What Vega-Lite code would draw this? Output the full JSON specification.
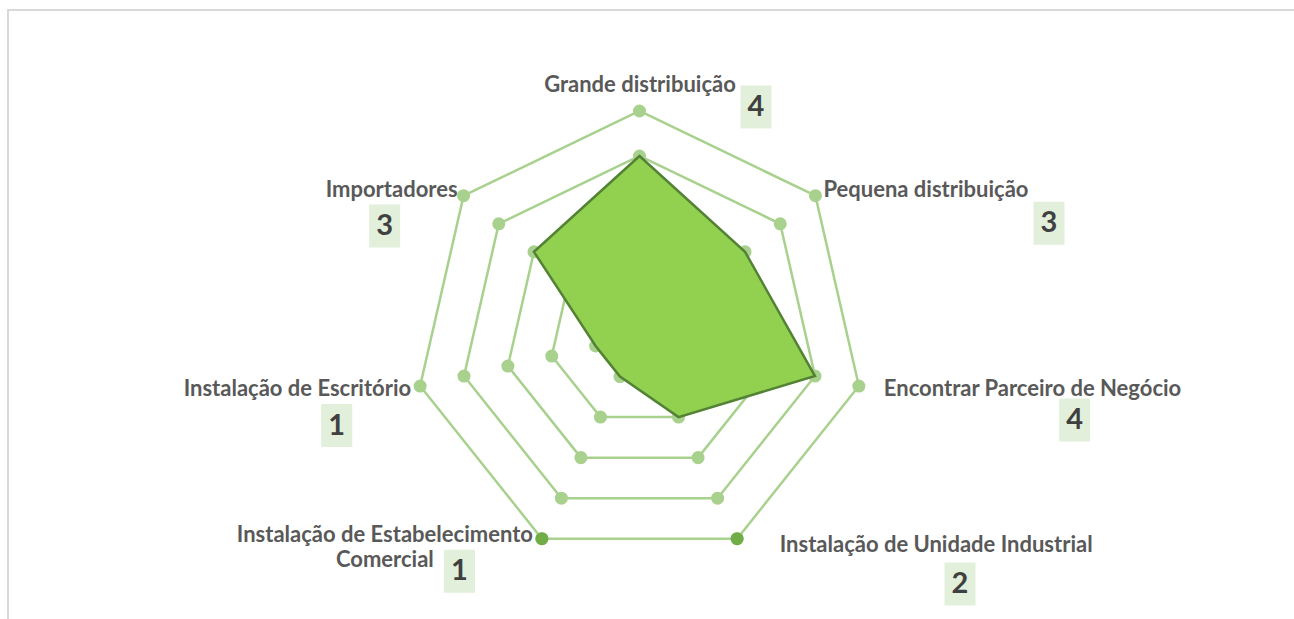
{
  "$schema": "https://vega.github.io/schema/vega-lite/v6.json",
  "width": 1286,
  "height": 609,
  "autosize": {"type": "none"},
  "padding": {"left": 8, "top": 10, "right": 0, "bottom": 0},
  "background": "white",
  "config": {"view": {"stroke": "#D9D9D9", "strokeWidth": 2, "strokeDash": [1286, 1895, 609]}},
  "datasets": {
    "cats": [
      {"cat": "Grande distribuição", "idx": 0, "value": 4},
      {"cat": "Pequena distribuição", "idx": 1, "value": 3},
      {"cat": "Encontrar Parceiro de Negócio", "idx": 2, "value": 4},
      {"cat": "Instalação de Unidade Industrial", "idx": 3, "value": 2},
      {"cat": "Instalação de Estabelecimento Comercial", "idx": 4, "value": 1},
      {"cat": "Instalação de Escritório", "idx": 5, "value": 1},
      {"cat": "Importadores", "idx": 6, "value": 3}
    ],
    "grid": [
      {"idx": 0, "level": 1}, {"idx": 1, "level": 1}, {"idx": 2, "level": 1}, {"idx": 3, "level": 1}, {"idx": 4, "level": 1}, {"idx": 5, "level": 1}, {"idx": 6, "level": 1},
      {"idx": 0, "level": 2}, {"idx": 1, "level": 2}, {"idx": 2, "level": 2}, {"idx": 3, "level": 2}, {"idx": 4, "level": 2}, {"idx": 5, "level": 2}, {"idx": 6, "level": 2},
      {"idx": 0, "level": 3}, {"idx": 1, "level": 3}, {"idx": 2, "level": 3}, {"idx": 3, "level": 3}, {"idx": 4, "level": 3}, {"idx": 5, "level": 3}, {"idx": 6, "level": 3},
      {"idx": 0, "level": 4}, {"idx": 1, "level": 4}, {"idx": 2, "level": 4}, {"idx": 3, "level": 4}, {"idx": 4, "level": 4}, {"idx": 5, "level": 4}, {"idx": 6, "level": 4},
      {"idx": 0, "level": 5}, {"idx": 1, "level": 5}, {"idx": 2, "level": 5}, {"idx": 3, "level": 5}, {"idx": 4, "level": 5}, {"idx": 5, "level": 5}, {"idx": 6, "level": 5}
    ]
  },
  "encoding": {
    "x": {"field": "px", "type": "quantitative", "scale": {"domain": [-14.0333, 14.5444], "nice": false, "zero": false}, "axis": null},
    "y": {"field": "py", "type": "quantitative", "scale": {"domain": [-6.2889, 7.2444], "nice": false, "zero": false}, "axis": null}
  },
  "layer": [
    {
      "data": {"name": "grid"},
      "transform": [
        {"calculate": "datum.idx*2*PI/7", "as": "ang"},
        {"calculate": "datum.level*sin(datum.ang)", "as": "px"},
        {"calculate": "datum.level*cos(datum.ang)", "as": "py"}
      ],
      "mark": {"type": "line", "interpolate": "linear-closed", "stroke": "#A9D18E", "strokeWidth": 2.5},
      "encoding": {"detail": {"field": "level", "type": "nominal"}, "order": {"field": "idx", "type": "quantitative"}}
    },
    {
      "data": {"name": "grid"},
      "transform": [
        {"calculate": "datum.idx*2*PI/7", "as": "ang"},
        {"calculate": "datum.level*sin(datum.ang)", "as": "px"},
        {"calculate": "datum.level*cos(datum.ang)", "as": "py"}
      ],
      "mark": {"type": "circle", "size": 170, "color": "#A9D18E", "opacity": 1}
    },
    {
      "data": {"name": "cats"},
      "transform": [
        {"calculate": "datum.idx*2*PI/7", "as": "ang"},
        {"calculate": "datum.value*sin(datum.ang)", "as": "px"},
        {"calculate": "datum.value*cos(datum.ang)", "as": "py"}
      ],
      "mark": {"type": "line", "interpolate": "linear-closed", "fill": "#92D050", "stroke": "#548235", "strokeWidth": 2.5},
      "encoding": {"order": {"field": "idx", "type": "quantitative"}}
    },
    {
      "data": {"name": "grid"},
      "transform": [
        {"filter": "datum.level == 5 && (datum.idx == 3 || datum.idx == 4)"},
        {"calculate": "datum.idx*2*PI/7", "as": "ang"},
        {"calculate": "datum.level*sin(datum.ang)", "as": "px"},
        {"calculate": "datum.level*cos(datum.ang)", "as": "py"}
      ],
      "mark": {"type": "circle", "size": 170, "color": "#70AD47", "opacity": 1}
    },
    {
      "data": {"name": "cats"},
      "transform": [
        {"filter": "datum.idx == 0"},
        {"calculate": "datum.idx*2*PI/7", "as": "ang"},
        {"calculate": "5*sin(datum.ang)", "as": "px"},
        {"calculate": "5*cos(datum.ang)", "as": "py"}
      ],
      "layer": [
        {"mark": {"type": "text", "align": "center", "baseline": "alphabetic", "xOffset": 0.5, "yOffset": -19, "font": "Lato", "fontWeight": "bold", "fontSize": 22, "fill": "#595959"}, "encoding": {"text": {"field": "cat"}}},
        {"mark": {"type": "point", "shape": "M-0.721,-1H0.721V1H-0.721Z", "size": 1849, "filled": true, "fill": "#E2EFDA", "strokeWidth": 0, "opacity": 1, "xOffset": 116.5, "yOffset": -4}},
        {"mark": {"type": "text", "align": "center", "baseline": "middle", "xOffset": 116.5, "yOffset": -4, "font": "Lato", "fontWeight": "bold", "fontSize": 29, "fill": "#404040"}, "encoding": {"text": {"field": "value", "type": "quantitative"}}}
      ]
    },
    {
      "data": {"name": "cats"},
      "transform": [
        {"filter": "datum.idx == 1"},
        {"calculate": "datum.idx*2*PI/7", "as": "ang"},
        {"calculate": "5*sin(datum.ang)", "as": "px"},
        {"calculate": "5*cos(datum.ang)", "as": "py"}
      ],
      "layer": [
        {"mark": {"type": "text", "align": "left", "baseline": "alphabetic", "xOffset": 8, "yOffset": 1, "font": "Lato", "fontWeight": "bold", "fontSize": 22, "fill": "#595959"}, "encoding": {"text": {"field": "cat"}}},
        {"mark": {"type": "point", "shape": "M-0.721,-1H0.721V1H-0.721Z", "size": 1849, "filled": true, "fill": "#E2EFDA", "strokeWidth": 0, "opacity": 1, "xOffset": 233.6, "yOffset": 27.6}},
        {"mark": {"type": "text", "align": "center", "baseline": "middle", "xOffset": 233.6, "yOffset": 27.6, "font": "Lato", "fontWeight": "bold", "fontSize": 29, "fill": "#404040"}, "encoding": {"text": {"field": "value", "type": "quantitative"}}}
      ]
    },
    {
      "data": {"name": "cats"},
      "transform": [
        {"filter": "datum.idx == 2"},
        {"calculate": "datum.idx*2*PI/7", "as": "ang"},
        {"calculate": "5*sin(datum.ang)", "as": "px"},
        {"calculate": "5*cos(datum.ang)", "as": "py"}
      ],
      "layer": [
        {"mark": {"type": "text", "align": "left", "baseline": "alphabetic", "xOffset": 25, "yOffset": 9.7, "font": "Lato", "fontWeight": "bold", "fontSize": 22, "fill": "#595959"}, "encoding": {"text": {"field": "cat"}}},
        {"mark": {"type": "point", "shape": "M-0.721,-1H0.721V1H-0.721Z", "size": 1849, "filled": true, "fill": "#E2EFDA", "strokeWidth": 0, "opacity": 1, "xOffset": 215.8, "yOffset": 34}},
        {"mark": {"type": "text", "align": "center", "baseline": "middle", "xOffset": 215.8, "yOffset": 34, "font": "Lato", "fontWeight": "bold", "fontSize": 29, "fill": "#404040"}, "encoding": {"text": {"field": "value", "type": "quantitative"}}}
      ]
    },
    {
      "data": {"name": "cats"},
      "transform": [
        {"filter": "datum.idx == 3"},
        {"calculate": "datum.idx*2*PI/7", "as": "ang"},
        {"calculate": "5*sin(datum.ang)", "as": "px"},
        {"calculate": "5*cos(datum.ang)", "as": "py"}
      ],
      "layer": [
        {"mark": {"type": "text", "align": "left", "baseline": "alphabetic", "xOffset": 42.6, "yOffset": 13, "font": "Lato", "fontWeight": "bold", "fontSize": 22, "fill": "#595959"}, "encoding": {"text": {"field": "cat"}}},
        {"mark": {"type": "point", "shape": "M-0.721,-1H0.721V1H-0.721Z", "size": 1849, "filled": true, "fill": "#E2EFDA", "strokeWidth": 0, "opacity": 1, "xOffset": 222.9, "yOffset": 45.3}},
        {"mark": {"type": "text", "align": "center", "baseline": "middle", "xOffset": 222.9, "yOffset": 45.3, "font": "Lato", "fontWeight": "bold", "fontSize": 29, "fill": "#404040"}, "encoding": {"text": {"field": "value", "type": "quantitative"}}}
      ]
    },
    {
      "data": {"name": "cats"},
      "transform": [
        {"filter": "datum.idx == 4"},
        {"calculate": "datum.idx*2*PI/7", "as": "ang"},
        {"calculate": "5*sin(datum.ang)", "as": "px"},
        {"calculate": "5*cos(datum.ang)", "as": "py"},
        {"calculate": "replace(datum.cat, ' Comercial', '|Comercial')", "as": "lbl"}
      ],
      "layer": [
        {"mark": {"type": "text", "align": "center", "baseline": "alphabetic", "lineBreak": "|", "lineHeight": 25, "xOffset": -157, "yOffset": 3.5, "font": "Lato", "fontWeight": "bold", "fontSize": 22, "fill": "#595959"}, "encoding": {"text": {"field": "lbl"}}},
        {"mark": {"type": "point", "shape": "M-0.721,-1H0.721V1H-0.721Z", "size": 1849, "filled": true, "fill": "#E2EFDA", "strokeWidth": 0, "opacity": 1, "xOffset": -82.4, "yOffset": 32.6}},
        {"mark": {"type": "text", "align": "center", "baseline": "middle", "xOffset": -82.4, "yOffset": 32.6, "font": "Lato", "fontWeight": "bold", "fontSize": 29, "fill": "#404040"}, "encoding": {"text": {"field": "value", "type": "quantitative"}}}
      ]
    },
    {
      "data": {"name": "cats"},
      "transform": [
        {"filter": "datum.idx == 5"},
        {"calculate": "datum.idx*2*PI/7", "as": "ang"},
        {"calculate": "5*sin(datum.ang)", "as": "px"},
        {"calculate": "5*cos(datum.ang)", "as": "py"}
      ],
      "layer": [
        {"mark": {"type": "text", "align": "right", "baseline": "alphabetic", "xOffset": -9, "yOffset": 9.7, "font": "Lato", "fontWeight": "bold", "fontSize": 22, "fill": "#595959"}, "encoding": {"text": {"field": "cat"}}},
        {"mark": {"type": "point", "shape": "M-0.721,-1H0.721V1H-0.721Z", "size": 1849, "filled": true, "fill": "#E2EFDA", "strokeWidth": 0, "opacity": 1, "xOffset": -83.4, "yOffset": 39.5}},
        {"mark": {"type": "text", "align": "center", "baseline": "middle", "xOffset": -83.4, "yOffset": 39.5, "font": "Lato", "fontWeight": "bold", "fontSize": 29, "fill": "#404040"}, "encoding": {"text": {"field": "value", "type": "quantitative"}}}
      ]
    },
    {
      "data": {"name": "cats"},
      "transform": [
        {"filter": "datum.idx == 6"},
        {"calculate": "datum.idx*2*PI/7", "as": "ang"},
        {"calculate": "5*sin(datum.ang)", "as": "px"},
        {"calculate": "5*cos(datum.ang)", "as": "py"}
      ],
      "layer": [
        {"mark": {"type": "text", "align": "right", "baseline": "alphabetic", "xOffset": -6, "yOffset": 1.6, "font": "Lato", "fontWeight": "bold", "fontSize": 22, "fill": "#595959"}, "encoding": {"text": {"field": "cat"}}},
        {"mark": {"type": "point", "shape": "M-0.721,-1H0.721V1H-0.721Z", "size": 1849, "filled": true, "fill": "#E2EFDA", "strokeWidth": 0, "opacity": 1, "xOffset": -78.9, "yOffset": 30.3}},
        {"mark": {"type": "text", "align": "center", "baseline": "middle", "xOffset": -78.9, "yOffset": 30.3, "font": "Lato", "fontWeight": "bold", "fontSize": 29, "fill": "#404040"}, "encoding": {"text": {"field": "value", "type": "quantitative"}}}
      ]
    }
  ]
}
